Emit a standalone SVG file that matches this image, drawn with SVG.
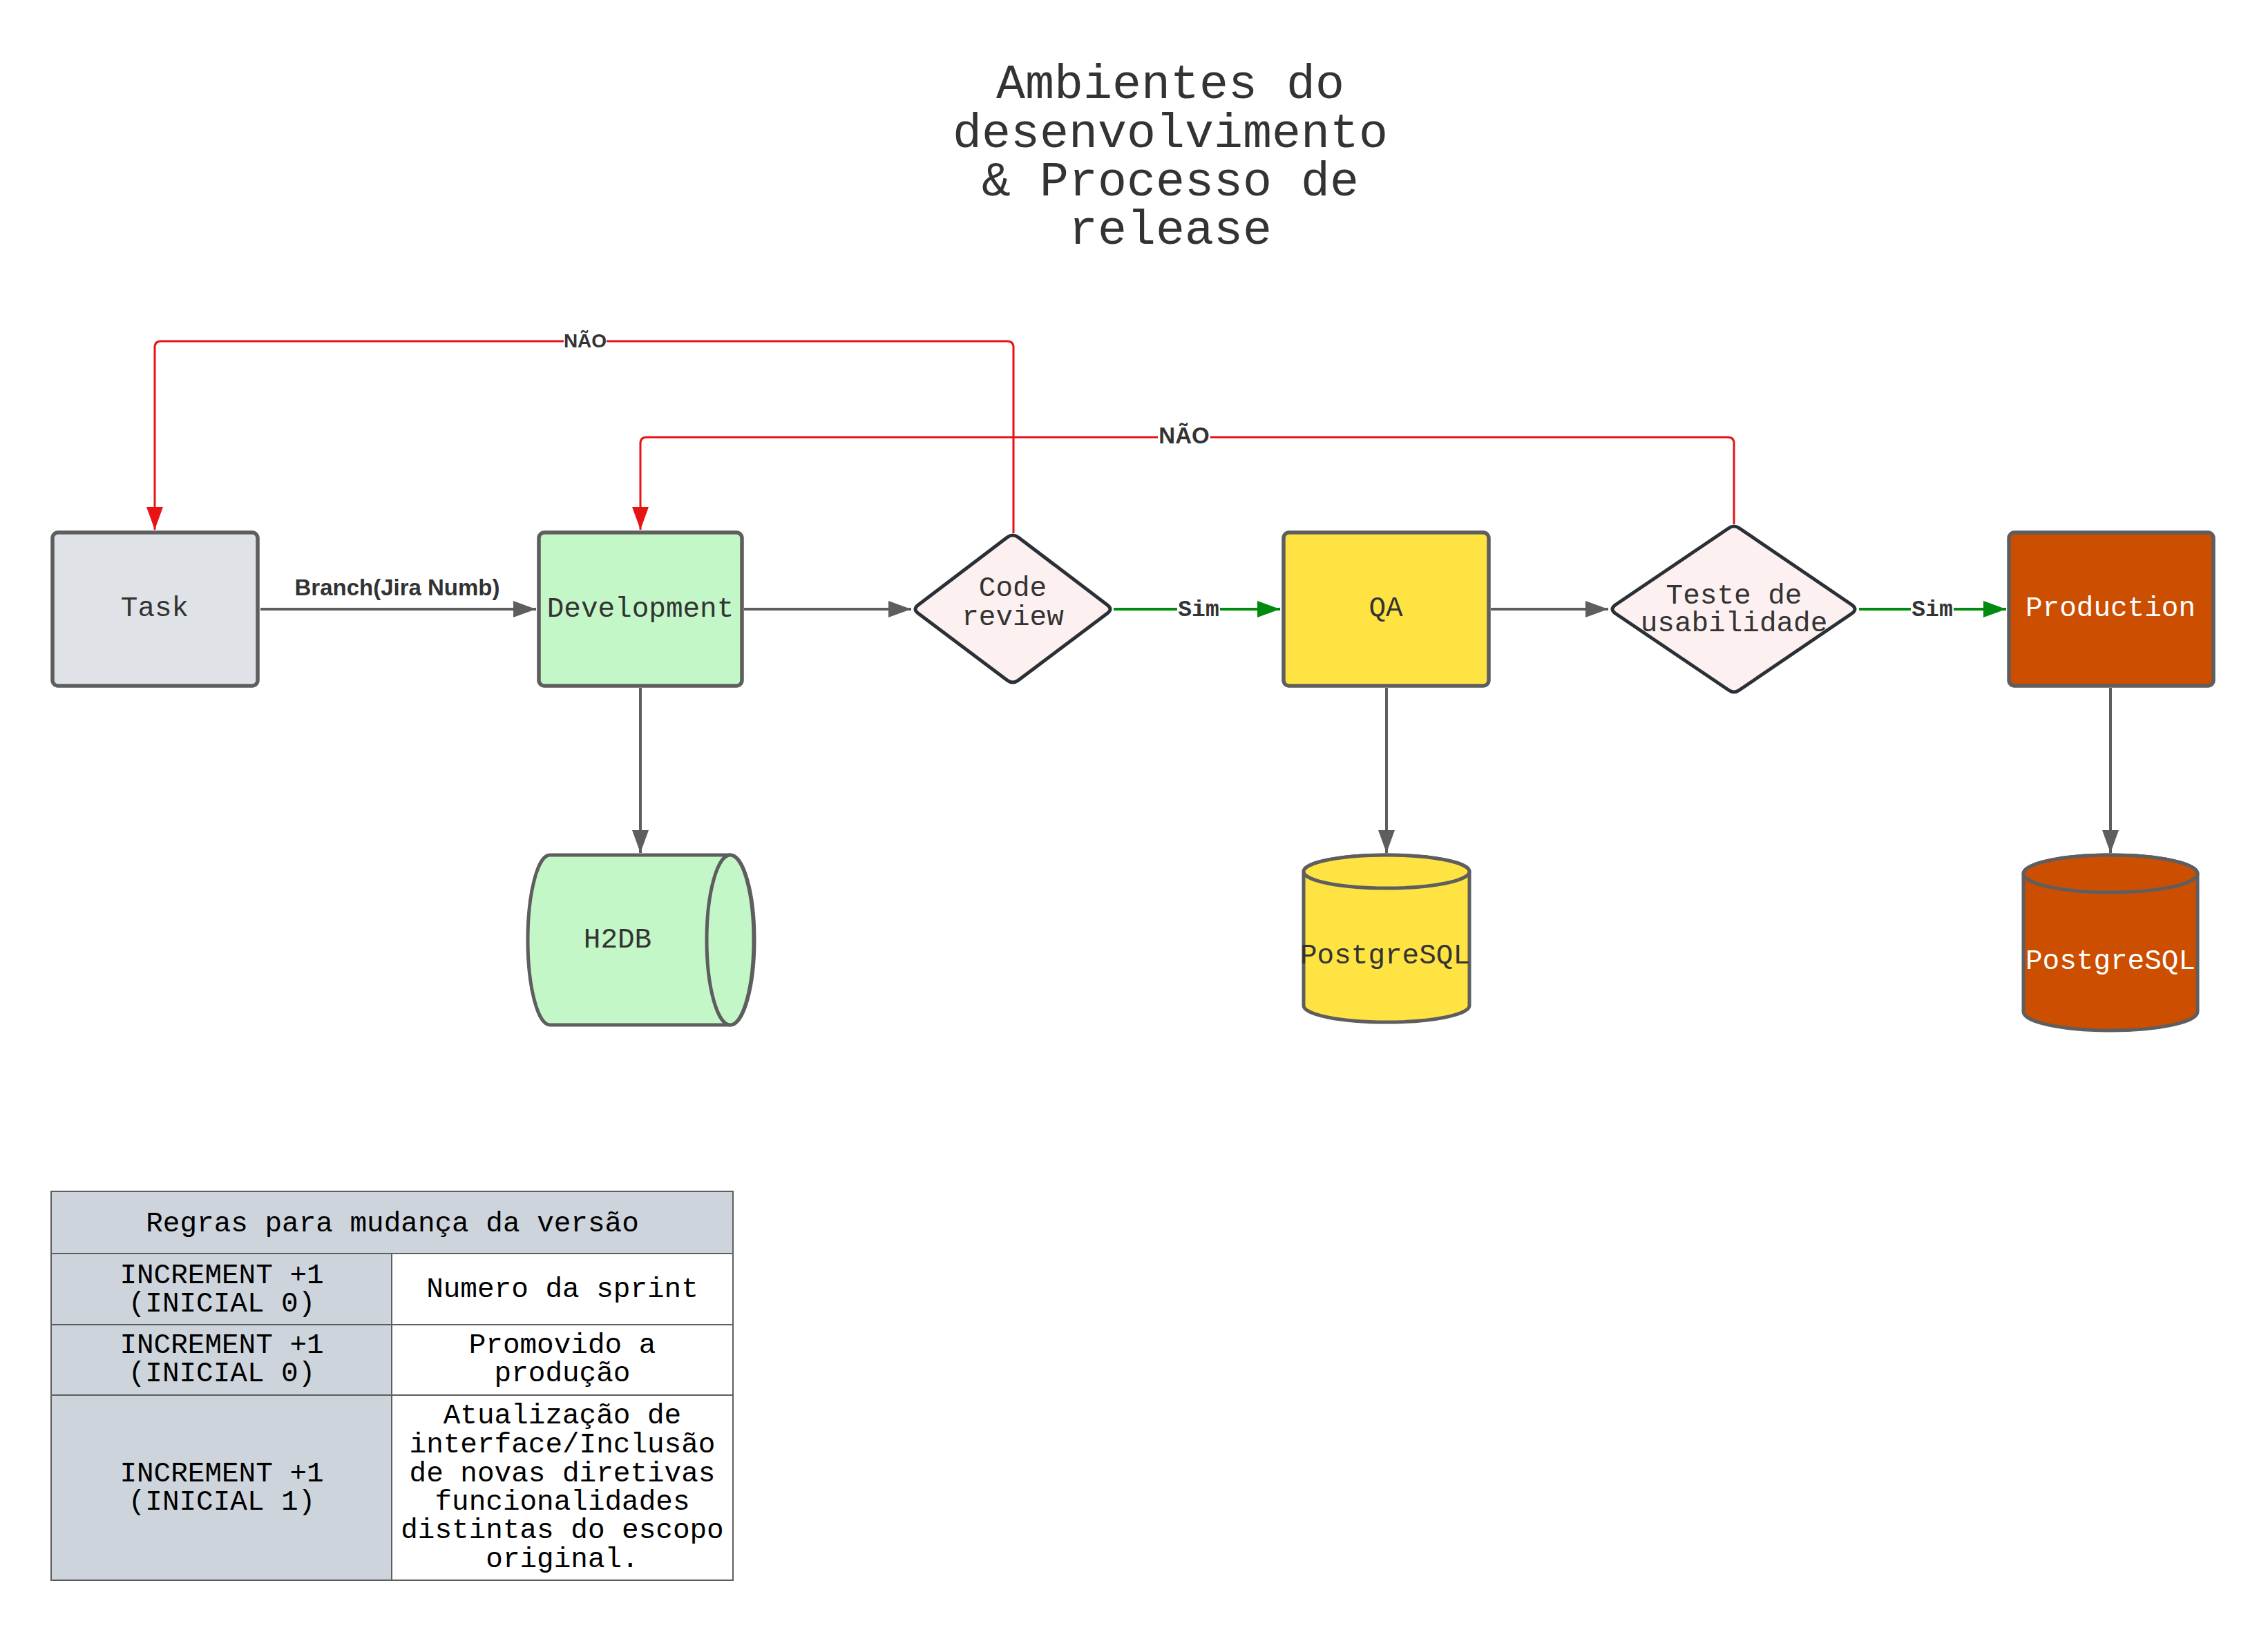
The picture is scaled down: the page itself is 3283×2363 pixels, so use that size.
<svg xmlns="http://www.w3.org/2000/svg" width="3283" height="2363" viewBox="0 0 3283 2363">
<defs>
<style>
.mono{font-family:"Liberation Mono","DejaVu Sans Mono",monospace;}
.t{font-family:"Liberation Mono","DejaVu Sans Mono",monospace;font-size:41px;fill:#333333;text-anchor:middle;}
.tb{font-family:"Liberation Mono","DejaVu Sans Mono",monospace;font-size:41px;fill:#000000;text-anchor:middle;}
.box{stroke:#5e5e5e;stroke-width:5.5;}
.dia{fill:#fdf0f0;stroke:#2b2f36;stroke-width:5;stroke-linejoin:round;}
.cyl{stroke:#5e5e5e;stroke-width:5;}
.gray{stroke:#5e5e5e;stroke-width:4;fill:none;}
.red{stroke:#e81313;stroke-width:3;fill:none;}
.green{stroke:#008a0e;stroke-width:4;fill:none;}
.lbl{font-family:"Liberation Sans",Arial,sans-serif;font-weight:bold;fill:#333333;text-anchor:middle;}
.sim{font-family:"Liberation Mono","DejaVu Sans Mono",monospace;font-weight:bold;font-size:33px;fill:#333333;text-anchor:middle;}
.cell{stroke:#5e5e5e;stroke-width:2;}
</style>
<marker id="ag" markerUnits="userSpaceOnUse" markerWidth="34" markerHeight="24" refX="33" refY="12" orient="auto"><path d="M0,0 L33,12 L0,24 Z" fill="#5e5e5e"/></marker>
<marker id="ar" markerUnits="userSpaceOnUse" markerWidth="34" markerHeight="24" refX="33" refY="12" orient="auto"><path d="M0,0 L33,12 L0,24 Z" fill="#e81313"/></marker>
<marker id="agr" markerUnits="userSpaceOnUse" markerWidth="34" markerHeight="24" refX="33" refY="12" orient="auto"><path d="M0,0 L33,12 L0,24 Z" fill="#008a0e"/></marker>
</defs>
<rect width="3283" height="2363" fill="#ffffff"/>

<g id="title">
<text class="mono" font-size="70" fill="#333333" text-anchor="middle"><tspan x="1694" y="142">Ambientes do</tspan><tspan x="1694" y="213">desenvolvimento</tspan><tspan x="1694" y="283">&amp; Processo de</tspan><tspan x="1694" y="353">release</tspan></text>
</g>

<g id="connectors">
<path class="gray" d="M377,882 L776,882" marker-end="url(#ag)"/>
<path class="gray" d="M1077,882 L1319,882" marker-end="url(#ag)"/>
<path class="gray" d="M2158,882 L2328,882" marker-end="url(#ag)"/>
<path class="gray" d="M927,996 L927,1235" marker-end="url(#ag)"/>
<path class="gray" d="M2007,996 L2007,1235" marker-end="url(#ag)"/>
<path class="gray" d="M3055,996 L3055,1235" marker-end="url(#ag)"/>
<path class="green" d="M1612,882 L1853,882" marker-end="url(#agr)"/>
<path class="green" d="M2691,882 L2904,882" marker-end="url(#agr)"/>
<path class="red" d="M1467,772 L1467,503 Q1467,494 1458,494 L233,494 Q224,494 224,503 L224,767" marker-end="url(#ar)"/>
<path class="red" d="M2510,759 L2510,642 Q2510,633 2501,633 L936,633 Q927,633 927,642 L927,767" marker-end="url(#ar)"/>
<rect x="425" y="832" width="300" height="36" fill="#ffffff"/>
<text class="lbl" x="575" y="862" font-size="33">Branch(Jira Numb)</text>
<rect x="816" y="480" width="62" height="28" fill="#ffffff"/>
<text class="lbl" x="847" y="503" font-size="28">NÃO</text>
<rect x="1676" y="614" width="76" height="32" fill="#ffffff"/>
<text class="lbl" x="1714" y="642" font-size="33">NÃO</text>
<rect x="1704" y="866" width="62" height="30" fill="#ffffff"/>
<text class="sim" x="1735" y="892">Sim</text>
<rect x="2766" y="866" width="62" height="30" fill="#ffffff"/>
<text class="sim" x="2797" y="892">Sim</text>
</g>

<g id="task">
<rect class="box" x="76" y="771" width="297" height="222" rx="8" fill="#dfe3e8"/>
<text class="t" x="224" y="892">Task</text>
</g>

<g id="development">
<rect class="box" x="780" y="771" width="294" height="222" rx="8" fill="#c3f7c8"/>
<text class="t" x="927" y="893">Development</text>
</g>

<g id="code-review">
<path class="dia" d="M1329,876 L1458,778 Q1466,772 1474,778 L1603,876 Q1611,882 1603,888 L1474,985 Q1466,991 1458,985 L1329,888 Q1321,882 1329,876 Z"/>
<text class="t" fill="#282c33"><tspan x="1466" y="863">Code</tspan><tspan x="1466" y="905">review</tspan></text>
</g>

<g id="qa">
<rect class="box" x="1858" y="771" width="297" height="222" rx="8" fill="#ffe342"/>
<text class="t" x="2006" y="892">QA</text>
</g>

<g id="teste-usabilidade">
<path class="dia" d="M2338,876 L2502,765 Q2510,759 2518,765 L2681,876 Q2689,882 2681,888 L2518,999 Q2510,1005 2502,999 L2338,888 Q2330,882 2338,876 Z"/>
<text class="t" fill="#282c33"><tspan x="2510" y="874">Teste de</tspan><tspan x="2510" y="914">usabilidade</tspan></text>
</g>

<g id="production">
<rect class="box" x="2908" y="771" width="296" height="222" rx="8" fill="#cc4e00"/>
<text class="t" x="3055" y="892" style="fill:#ffffff">Production</text>
</g>

<g id="h2db">
<path class="cyl" fill="#c3f7c8" d="M796,1238 L1057,1238 A35,123 0 0 1 1057,1484 L796,1484 A32,123 0 0 1 796,1238 Z"/>
<ellipse class="cyl" fill="#c3f7c8" cx="1057" cy="1361" rx="34" ry="123"/>
<text class="t" x="894" y="1372">H2DB</text>
</g>

<g id="postgresql-qa">
<path class="cyl" fill="#ffe342" d="M1887,1262 A120,24 0 0 1 2127,1262 L2127,1456 A120,24 0 0 1 1887,1456 Z"/>
<ellipse class="cyl" fill="#ffe342" cx="2007" cy="1262" rx="120" ry="24"/>
<text class="t" x="2005" y="1395">PostgreSQL</text>
</g>

<g id="postgresql-prod">
<path class="cyl" fill="#cc4e00" d="M2929,1265 A126,27 0 0 1 3181,1265 L3181,1465 A126,27 0 0 1 2929,1465 Z"/>
<ellipse class="cyl" fill="#cc4e00" cx="3055" cy="1265" rx="126" ry="27"/>
<text class="t" x="3055" y="1403" style="fill:#ffffff">PostgreSQL</text>
</g>

<g id="version-table">
<rect class="cell" x="74" y="1725" width="987" height="90" fill="#ced4dc"/>
<rect class="cell" x="74" y="1815" width="493" height="103" fill="#ced4dc"/>
<rect class="cell" x="567" y="1815" width="494" height="103" fill="#ffffff"/>
<rect class="cell" x="74" y="1918" width="493" height="102" fill="#ced4dc"/>
<rect class="cell" x="567" y="1918" width="494" height="102" fill="#ffffff"/>
<rect class="cell" x="74" y="2020" width="493" height="268" fill="#ced4dc"/>
<rect class="cell" x="567" y="2020" width="494" height="268" fill="#ffffff"/>
<text class="tb" x="568" y="1783">Regras para mudança da versão</text>
<text class="tb"><tspan x="321" y="1858">INCREMENT +1</tspan><tspan x="321" y="1899">(INICIAL 0)</tspan></text>
<text class="tb" x="814" y="1878">Numero da sprint</text>
<text class="tb"><tspan x="321" y="1959">INCREMENT +1</tspan><tspan x="321" y="2000">(INICIAL 0)</tspan></text>
<text class="tb"><tspan x="814" y="1959">Promovido a</tspan><tspan x="814" y="2000">produção</tspan></text>
<text class="tb"><tspan x="321" y="2145">INCREMENT +1</tspan><tspan x="321" y="2186">(INICIAL 1)</tspan></text>
<text class="tb"><tspan x="814" y="2061">Atualização de</tspan><tspan x="814" y="2103">interface/Inclusão</tspan><tspan x="814" y="2145">de novas diretivas</tspan><tspan x="814" y="2186">funcionalidades</tspan><tspan x="814" y="2227">distintas do escopo</tspan><tspan x="814" y="2269">original.</tspan></text>
</g>
</svg>
